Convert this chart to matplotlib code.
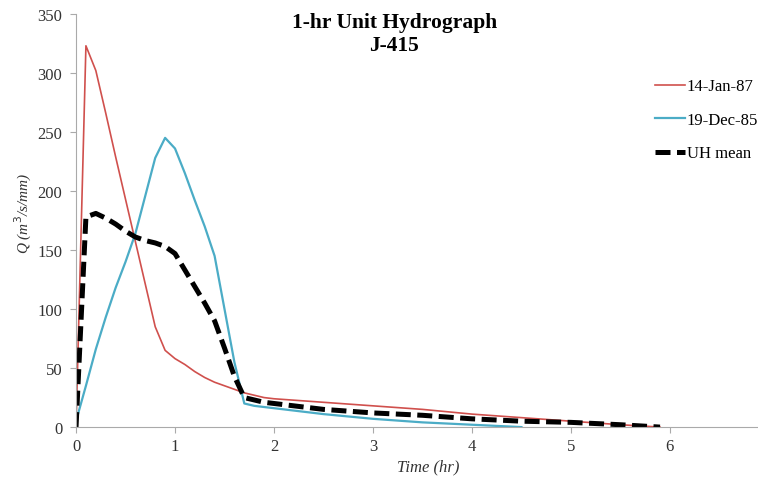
import matplotlib.pyplot as plt
import numpy as np

plt.rcParams['font.family'] = 'Liberation Serif'

# time axis (hr)
t = np.array([0, 0.1, 0.2, 0.3, 0.4, 0.5, 0.6, 0.7, 0.8, 0.9, 1.0,
              1.1, 1.2, 1.3, 1.4, 1.5, 1.6, 1.7, 1.8, 1.9, 2.0,
              2.5, 3.0, 3.5, 4.0, 4.5, 5.0, 5.5, 5.9])

# 14-Jan-87 event
q_jan87 = np.array([0, 323, 302, 266, 229, 193, 157, 121, 85, 65, 58,
                    53, 47, 42, 38, 35, 32, 29, 27, 25, 24,
                    21, 18, 15, 11, 8, 5, 2, 0])

# 19-Dec-85 event
q_dec85 = np.array([5, 35, 66, 93, 118, 140, 164, 196, 228, 245, 236,
                    215, 192, 170, 145, 100, 55, 20, 18, 17, 16,
                    11, 7, 4, 2, 0, np.nan, np.nan, np.nan])

# mean unit hydrograph
q_mean = np.array([0, 178, 181, 177, 172, 166, 161, 158, 156, 153, 147,
                   133, 119, 105, 90, 67, 43, 25, 23, 21, 20,
                   15, 12, 10, 7, 5, 4, 2, 0])

fig = plt.figure(figsize=(7.58, 4.81), dpi=100)
ax = fig.add_axes([0.1003, 0.110, 0.8997, 0.859])

ax.plot(t, q_jan87, color='#d0504d', lw=1.2, label='14-Jan-87')
ax.plot(t, q_dec85, color='#4bacc6', lw=1.6, label='19-Dec-85')
ax.plot(t, q_mean, color='black', lw=3.6, dashes=(3, 1.3), label='UH mean')

ax.set_xlim(0, 6.89)
ax.set_ylim(0, 350)
ax.set_xticks([0, 1, 2, 3, 4, 5, 6])
ax.set_yticks(np.arange(0, 351, 50))
ax.tick_params(labelsize=12, colors='#333333', length=4, color='#aaaaaa')
ax.tick_params(axis='y', pad=6)
for s in ['top', 'right']:
    ax.spines[s].set_visible(False)
for s in ['left', 'bottom']:
    ax.spines[s].set_color('#aaaaaa')

ax.set_xlabel('Time (hr)', fontsize=12, style='italic', color='#333333')
ax.set_ylabel('Q (m$^3$/s/mm)', fontsize=11, style='italic', color='#333333')
ax.xaxis.set_label_coords(0.516, -0.075)
ax.yaxis.set_label_coords(-0.062, 0.52)

fig.text(0.52, 0.972, '1-hr Unit Hydrograph\nJ-415', ha='center', va='top',
         fontsize=15.5, fontweight='bold', linespacing=1.15)

fig.legend(loc='upper left', bbox_to_anchor=(0.864, 0.835), frameon=False,
           fontsize=12, handlelength=1.8, handletextpad=0.1,
           labelspacing=1.05, borderaxespad=0, borderpad=0)

fig.savefig('out.png', dpi=100)
